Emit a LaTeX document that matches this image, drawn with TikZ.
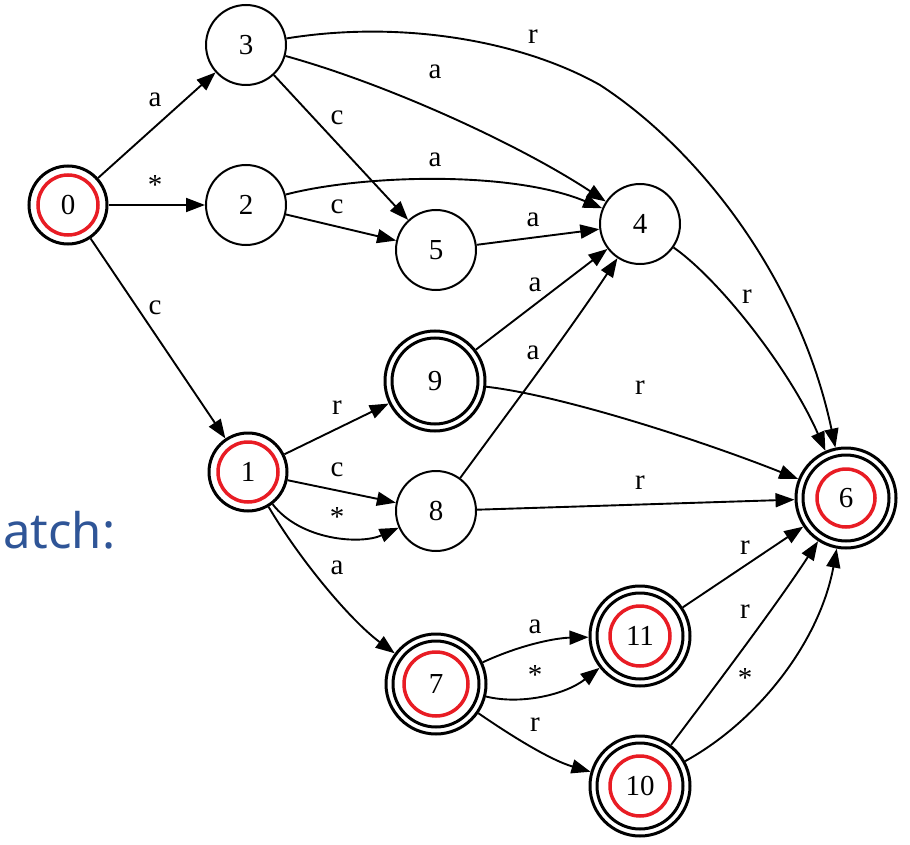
\documentclass[tikz,border=0pt]{standalone}
\usepackage{fontspec}
\setmainfont{Liberation Serif}
\newfontfamily\uifont{Noto Sans}
\usetikzlibrary{arrows.meta}
\definecolor{ringred}{RGB}{232,28,36}
\definecolor{uiblue}{RGB}{47,85,151}
\begin{document}
\begin{tikzpicture}[x=1pt,y=-1pt,
  st/.style={circle, draw, line width=2pt, minimum size=80pt, inner sep=0pt, font=\fontsize{29}{29}\selectfont},
  acc/.style={st, minimum size=100pt, line width=3pt},
  boldst/.style={st, minimum size=78pt, line width=3pt},
  lbl/.style={font=\fontsize{29}{29}\selectfont, inner sep=0pt},
  starlbl/.style={lbl, yshift=-5pt},
  edge/.style={line width=1.9pt, -{Triangle[length=19pt,width=14pt]}},
  innerring/.style={line width=3pt},
  redring/.style={draw=ringred, line width=3.5pt}]
\fill[white] (0,0) rectangle (910,845);
\useasboundingbox (0,0) rectangle (910,845);

% states
\node[boldst] (n0) at (68,205) {0};
\node[st] (n3) at (246,45) {3};
\node[st] (n2) at (246,205) {2};
\node[st] (n5) at (436,250) {5};
\node[st] (n4) at (640,224) {4};
\node[acc] (n9) at (435,381) {9};
\node[boldst] (n1) at (248,472) {1};
\node[st] (n8) at (436,511) {8};
\node[acc] (n6) at (846,498) {6};
\node[acc] (n11) at (640,636) {11};
\node[acc] (n7) at (436,684) {7};
\node[acc] (n10) at (640,786) {10};

\foreach \n in {n9,n6,n11,n7,n10} \draw[innerring] (\n.center) circle[radius=43];

% red marks
\draw[redring] (n0.center) circle[radius=30];
\draw[redring] (n1.center) circle[radius=30];
\draw[redring] (n6.center) circle[radius=29];
\draw[redring] (n7.center) circle[radius=32];
\draw[redring] (n11.center) circle[radius=30];
\draw[redring] (n10.center) circle[radius=30];

% edges
\draw[edge] (n0) -- (n3);
\draw[edge] (n0) -- (n2);
\draw[edge] (n0) -- (n1);
\draw[edge] (n3) -- (n5);
\draw[edge] (n3) .. controls (390,85) and (520,145) .. (n4);
\draw[edge] (n3) .. controls (400,20) and (520,40) .. (600,85) .. controls (700,150) and (800,280) .. (n6);
\draw[edge] (n2) .. controls (360,175) and (510,170) .. (n4);
\draw[edge] (n2) -- (n5);
\draw[edge] (n5) -- (n4);
\draw[edge] (n4) .. controls (720,280) and (790,370) .. (n6);
\draw[edge] (n9) -- (n4);
\draw[edge] (n8) .. controls (510,410) and (570,330) .. (n4);
\draw[edge] (n9) .. controls (560,395) and (700,440) .. (n6);
\draw[edge] (n8) -- (n6);
\draw[edge] (n1) -- (n9);
\draw[edge] (n1) -- (n8);
\draw[edge] (n1) .. controls (300,540) and (360,545) .. (n8);
\draw[edge] (n1) .. controls (300,560) and (350,620) .. (n7);
\draw[edge] (n7) .. controls (520,645) and (555,638) .. (n11);
\draw[edge] (n7) .. controls (520,705) and (565,695) .. (n11);
\draw[edge] (n7) .. controls (510,735) and (550,760) .. (n10);
\draw[edge] (n11) -- (n6);
\draw[edge] (n10) .. controls (720,680) and (780,600) .. (n6);
\draw[edge] (n10) .. controls (760,720) and (820,640) .. (n6);

% edge labels
\node[lbl] (l1) at (155,100) {a};
\node[starlbl] (l2) at (155,180) {*};
\node[lbl] (l3) at (155,308) {c};
\node[lbl] (l4) at (337,118) {c};
\node[lbl] (l5) at (435,72) {a};
\node[lbl] (l6) at (533,37) {r};
\node[lbl] (l7) at (435,160) {a};
\node[lbl] (l8) at (337,207) {c};
\node[lbl] (l9) at (533,220) {a};
\node[lbl] (l10) at (747,297) {r};
\node[lbl] (l11) at (535,285) {a};
\node[lbl] (l12) at (533,353) {a};
\node[lbl] (l13) at (640,388) {r};
\node[lbl] (l14) at (640,483) {r};
\node[lbl] (l15) at (337,408) {r};
\node[lbl] (l16) at (337,470) {c};
\node[starlbl] (l17) at (337,512) {*};
\node[lbl] (l18) at (337,568) {a};
\node[lbl] (l19) at (535,627) {a};
\node[starlbl] (l20) at (535,670) {*};
\node[lbl] (l21) at (535,725) {r};
\node[lbl] (l22) at (745,548) {r};
\node[lbl] (l23) at (745,612) {r};
\node[starlbl] (l24) at (745,673) {*};

\node[font=\uifont\fontsize{49}{49}\selectfont, text=uiblue, anchor=base west, inner sep=0pt] (atch) at (3,548) {atch:};
\end{tikzpicture}
\end{document}
